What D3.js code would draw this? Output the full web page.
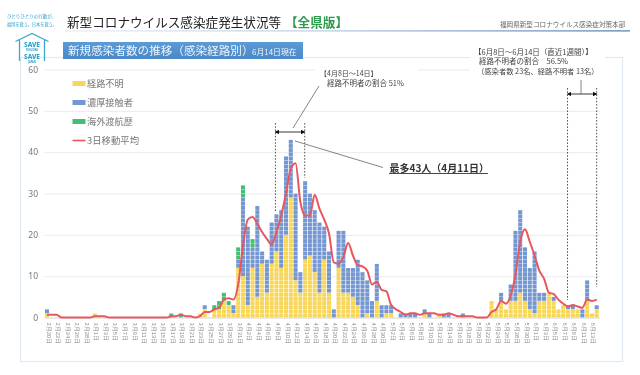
<!DOCTYPE html>
<html lang="ja"><head><meta charset="utf-8">
<style>
html,body{margin:0;padding:0;background:#fff;}
svg{display:block;filter:blur(0.4px);font-family:"Noto Sans CJK JP","Noto Sans",sans-serif;}
</style>
<script src="https://cdn.jsdelivr.net/npm/d3@7/dist/d3.min.js"></script>
</head><body><svg id="c" width="640" height="375"></svg>
<script>
const categories = [
"2月20日","2月21日","2月22日","2月23日","2月24日","2月25日","2月26日","2月27日","2月28日","2月29日",
"3月1日","3月2日","3月3日","3月4日","3月5日","3月6日","3月7日","3月8日","3月9日","3月10日",
"3月11日","3月12日","3月13日","3月14日","3月15日","3月16日","3月17日","3月18日","3月19日","3月20日",
"3月21日","3月22日","3月23日","3月24日","3月25日","3月26日","3月27日","3月28日","3月29日","3月30日",
"3月31日","4月1日","4月2日","4月3日","4月4日","4月5日","4月6日","4月7日","4月8日","4月9日",
"4月10日","4月11日","4月12日","4月13日","4月14日","4月15日","4月16日","4月17日","4月18日","4月19日",
"4月20日","4月21日","4月22日","4月23日","4月24日","4月25日","4月26日","4月27日","4月28日","4月29日",
"4月30日","5月1日","5月2日","5月3日","5月4日","5月5日","5月6日","5月7日","5月8日","5月9日",
"5月10日","5月11日","5月12日","5月13日","5月14日","5月15日","5月16日","5月17日","5月18日","5月19日",
"5月20日","5月21日","5月22日","5月23日","5月24日","5月25日","5月26日","5月27日","5月28日","5月29日",
"5月30日","5月31日","6月1日","6月2日","6月3日","6月4日","6月5日","6月6日","6月7日","6月8日",
"6月9日","6月10日","6月11日","6月12日","6月13日","6月14日"];
const unknownRoute = [
1,0,0,0,0,0,0,0,0,0,
1,0,0,0,0,0,0,0,0,0,
0,0,0,0,0,0,0,0,0,0,
0,0,1,2,0,2,2,4,3,1,
12,10,3,12,5,13,6,13,16,12,
20,29,9,6,14,15,11,6,14,6,
0,12,6,6,5,3,0,1,0,4,
0,1,1,0,0,0,0,0,0,1,
0,0,1,0,0,0,0,0,0,0,
0,0,0,4,2,4,2,4,4,6,
4,2,1,4,4,6,4,2,3,2,
2,2,0,4,1,2];
const closeContact = [
1,0,0,0,0,0,0,0,0,0,
0,0,0,0,0,0,0,0,0,0,
0,0,0,0,0,0,0,0,0,0,
0,0,0,1,0,0,0,0,0,2,
2,19,19,5,22,3,8,10,9,14,
19,14,21,5,19,15,15,17,8,10,
2,9,15,6,7,11,11,8,4,9,
3,2,2,0,1,1,1,1,0,1,
1,0,0,1,1,0,0,1,0,0,
0,0,0,0,0,2,0,4,17,20,
13,10,15,2,2,0,1,0,0,1,
1,0,2,5,0,1];
const overseas = [
0,0,0,0,0,0,0,0,0,0,
0,0,0,0,0,0,0,0,0,0,
0,0,0,0,0,0,1,0,1,0,
0,0,0,0,0,1,2,2,1,0,
3,3,0,2,0,0,0,0,0,0,
0,0,0,0,0,0,0,0,0,0,
0,0,0,0,0,0,0,0,0,0,
0,0,0,0,0,0,0,0,0,0,
0,0,0,0,0,0,0,0,0,0,
0,0,0,0,0,0,0,0,0,0,
0,0,0,0,0,0,0,0,0,0,
0,0,0,0,0,0];
const movingAvg = [
.67,.67,.67,0,0,0,0,0,0,0,
.33,.33,.33,0,0,0,0,0,0,0,
0,0,0,0,0,0,.33,.33,.67,.33,
.33,0,.33,1.33,1.33,2,2.33,4.33,4.67,4.33,
8,17.33,23.67,24.33,22.67,20.67,19,17.67,20.67,24.67,
30,36,37.33,28,24.67,24.67,29.67,26.33,23.67,20.33,
13.33,13,14.67,18,15,12.67,12.33,11.33,8,8.67,
6.67,6.33,3,2,1.33,.67,1,1,.67,1,
1,1,.67,.67,1,.67,.33,.33,.33,.33,
0,0,0,1.33,2,4,3.33,5.33,10.33,18.33,
21.33,18.33,15,11.33,9.33,6,5.67,4.33,3.33,2.67,
3,2.67,2.33,4.33,4,4.33];
const yTicks = [0,10,20,30,40,50,60];
const seriesNames = ["経路不明","濃厚接触者","海外渡航歴"];
const seriesColors = ["#f7d658","#7597d1","#45bd74"];
const lineColor = "#e8565f";
const lineName = "3日移動平均";

const svg = d3.select("#c");
const defs = svg.append("defs");
const g1 = defs.append("linearGradient").attr("id","rule");
g1.append("stop").attr("offset","0").attr("stop-color","#e6edf6");
g1.append("stop").attr("offset","0.45").attr("stop-color","#b9cbe3");
g1.append("stop").attr("offset","1").attr("stop-color","#4f77b2");
const g2 = defs.append("linearGradient").attr("id","banner").attr("x2",0).attr("y2",1);
g2.append("stop").attr("offset","0").attr("stop-color","#5b9bd6");
g2.append("stop").attr("offset","1").attr("stop-color","#4a88c6");
["arrowR","arrowL"].forEach((id,i)=>{
  defs.append("marker").attr("id",id).attr("viewBox","0 0 6 6").attr("refX",i?1:5).attr("refY",3)
    .attr("markerWidth",4.5).attr("markerHeight",4.5).attr("markerUnits","userSpaceOnUse").attr("orient","auto")
    .append("path").attr("d",i?"M6,0L0,3L6,6Z":"M0,0L6,3L0,6Z").attr("fill","#111");
});

const txt=(x,y,s,size,fill,extra={})=>{
  const t=svg.append("text").attr("x",x).attr("y",y).attr("font-size",size).attr("fill",fill).text(s);
  Object.entries(extra).forEach(([k,v])=>t.attr(k,v));
  return t;
};

// frame
svg.append("rect").attr("x",20.5).attr("y",57.5).attr("width",602).attr("height",304)
  .attr("fill","none").attr("stroke","#e1eaf2").attr("stroke-width",1.2);

// scales
const x = d3.scaleBand().domain(categories).range([44.61,599.09]).paddingInner(.15).paddingOuter(.075);
const y = d3.scaleLinear().domain([0,60]).range([317.5,69.5]);
const xc = d=>x(d)+x.bandwidth()/2;

// axes
const yAxis = svg.append("g").attr("transform","translate(44,0)")
  .call(d3.axisLeft(y).tickValues(yTicks).tickSize(-556).tickPadding(6));
yAxis.select(".domain").remove();
yAxis.selectAll("line").attr("stroke","#ebebeb").attr("stroke-width",1);
yAxis.selectAll("text").attr("fill","#777").attr("font-size",8.5).attr("font-family","Noto Sans,sans-serif");

const xAxis = svg.append("g").attr("transform","translate(0,317.5)")
  .call(d3.axisBottom(x).tickValues(categories.filter((d,i)=>i%2===0)).tickSize(0));
xAxis.select(".domain").attr("stroke","#ddd");
xAxis.selectAll("text").attr("fill","#888").attr("font-size",5.8)
  .attr("text-anchor","start").attr("dy",0).attr("dominant-baseline","central")
  .attr("transform","translate(1.5,5) rotate(90)").attr("x",0).attr("y",0);

// stacked unit cells
const series=[unknownRoute,closeContact,overseas];
const cells=[];
categories.forEach((c,i)=>{
  let base=0;
  series.forEach((s,si)=>{
    d3.range(s[i]).forEach(()=>{cells.push({c,base,si});base++;});
  });
});
svg.append("g").selectAll("rect").data(cells).join("rect")
  .attr("x",d=>x(d.c)).attr("width",x.bandwidth())
  .attr("y",d=>y(d.base+1)+.15).attr("height",d=>y(d.base)-y(d.base+1)-.3)
  .attr("fill",d=>seriesColors[d.si]);

// moving average line
svg.append("path").datum(movingAvg).attr("fill","none").attr("stroke",lineColor).attr("stroke-width",2)
  .attr("stroke-linejoin","round")
  .attr("d",d3.line().x((d,i)=>xc(categories[i])).y(d=>y(d)).curve(d3.curveMonotoneX));

// legend
const legY=d3.scalePoint().domain([...seriesNames,lineName]).range([83.5,140.5]);
seriesNames.forEach((n,i)=>{
  svg.append("rect").attr("x",72.5).attr("y",legY(n)-2.5).attr("width",13).attr("height",5).attr("fill",seriesColors[i]);
  txt(87,legY(n)+3.2,n,9.2,"#777");
});
svg.append("line").attr("x1",72.5).attr("x2",85.5).attr("y1",legY(lineName)).attr("y2",legY(lineName)).attr("stroke",lineColor).attr("stroke-width",1.6);
txt(87,legY(lineName)+3.2,lineName,9.4,"#777");

// header
svg.append("rect").attr("x",65).attr("y",30.3).attr("width",565).attr("height",1.2).attr("fill","url(#rule)");
txt(67,27,"新型コロナウイルス感染症発生状況等",12.6,"#222");
txt(285,27,"【全県版】",12.6,"#2e9a4e",{"font-weight":700});
txt(500,27,"福岡県新型コロナウイルス感染症対策本部",6.6,"#666");
txt(7,18,"ひとりひとりの行動が、",4.5,"#2f9fcb");
txt(7,25.5,"福岡を救う。日本を救う。",4.2,"#2f9fcb");

// logo
svg.append("path").attr("d","M15.5,41.5L32,33.5L48.5,41.5M19.5,40V61M44.5,40V61")
  .attr("fill","none").attr("stroke","#3fa7cf").attr("stroke-width",1.3);
const logo=(y0,s,size,w)=>txt(32,y0,s,size,"#2f9fcb",{"text-anchor":"middle","font-weight":w,"font-family":"Noto Sans,sans-serif"});
logo(46.5,"SAVE",6.5,800);logo(50.8,"FUKUOKA",2.5,700);logo(58.5,"SAVE",6.5,800);logo(63.2,"JAPAN",2.5,700);

// banner
svg.append("rect").attr("x",63).attr("y",42).attr("width",240).attr("height",17).attr("fill","url(#banner)");
txt(68,55,"新規感染者数の推移（感染経路別）",11.6,"#eef4fa");
txt(252,55,"6月14日現在",7.9,"#eef4fa");

// annotations: white plates hide the grid behind them
svg.append("rect").attr("x",315).attr("y",66).attr("width",103).attr("height",22).attr("fill","#fff");
svg.append("rect").attr("x",470).attr("y",45).attr("width",135).attr("height",32).attr("fill","#fff");

const dash=(xp,y0,y1)=>svg.append("line").attr("x1",xp).attr("x2",xp).attr("y1",y0).attr("y2",y1)
  .attr("stroke","#444").attr("stroke-width",.9).attr("stroke-dasharray","1.6 1.6");
const xA=xc("4月8日")-1,xB=xc("4月14日")-.4,xC=xc("6月8日")-.5,xD=xc("6月14日");
dash(xA,123,211);dash(xB,123,178);dash(xC,88,300);dash(xD,88,287);
const arrow=(a,b,yy)=>svg.append("line").attr("x1",a).attr("x2",b).attr("y1",yy).attr("y2",yy)
  .attr("stroke","#222").attr("stroke-width",.9).attr("marker-end","url(#arrowR)").attr("marker-start","url(#arrowL)");
arrow(xA,xB,132);arrow(xC,xD,94);
const lead=(a,b,c,d)=>svg.append("line").attr("x1",a).attr("y1",b).attr("x2",c).attr("y2",d).attr("stroke","#666").attr("stroke-width",.8);
lead(293,128,319,86);lead(295,141,383,167.5);lead(581,80,581,94);

txt(320,75.5,"【4月8日〜14日】",7,"#444");
txt(327,85.5,"経路不明者の割合 51%",7.5,"#444");
txt(474,54.5,"【6月8日〜6月14日（直近1週間）】",7.5,"#444");
txt(479,64,"経路不明者の割合　56.5%",7.5,"#444");
txt(477,73.5,"（感染者数 23名、経路不明者 13名）",7.3,"#444");

txt(389.5,172,"最多43人（4月11日）",10,"#333",{"font-weight":700});
svg.append("line").attr("x1",389).attr("x2",488).attr("y1",173.5).attr("y2",173.5).attr("stroke","#333").attr("stroke-width",.9);
</script></body></html>
